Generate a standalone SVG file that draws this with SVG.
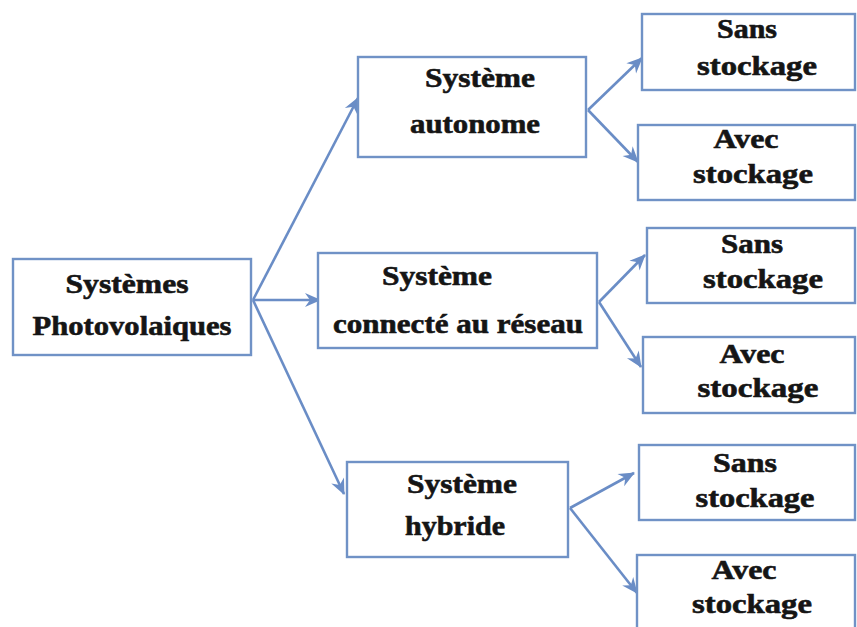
<svg xmlns="http://www.w3.org/2000/svg" width="857" height="627" viewBox="0 0 857 627">
<style>
.box{fill:#ffffff;stroke:#7092c6;stroke-width:2.4}
.t{font-family:"Liberation Serif","Times New Roman",Times,serif;font-weight:bold;font-size:28px;fill:#151515;stroke:#151515;stroke-width:0.6;text-anchor:middle}
.c{fill:none;stroke:#6a8dc6;stroke-width:2.6;marker-end:url(#ah)}
</style>
<defs>
<marker id="ah" markerUnits="userSpaceOnUse" viewBox="-16 -8 18 16" refX="0" refY="0" markerWidth="18" markerHeight="16" orient="auto">
<path d="M1,0 L-15,-7 L-10,0 L-15,7 Z" fill="#6a8dc6"/>
</marker>
</defs>
<rect width="857" height="627" fill="#ffffff"/>
<g id="connectors">
<line class="c" x1="253" y1="300" x2="358" y2="98"/>
<line class="c" x1="253" y1="300" x2="320" y2="300"/>
<line class="c" x1="253" y1="300" x2="344" y2="494"/>
<line class="c" x1="588" y1="110" x2="642" y2="58"/>
<line class="c" x1="588" y1="110" x2="638" y2="162"/>
<line class="c" x1="599" y1="302" x2="645" y2="255"/>
<line class="c" x1="599" y1="302" x2="641" y2="367"/>
<line class="c" x1="570" y1="508" x2="634" y2="473"/>
<line class="c" x1="570" y1="508" x2="637" y2="593"/>
</g>
<g id="n-main">
<rect class="box" x="13" y="259" width="238" height="96"/>
<text class="t" x="127" y="293" textLength="123" lengthAdjust="spacingAndGlyphs">Systèmes</text>
<text class="t" x="132" y="335" textLength="199" lengthAdjust="spacingAndGlyphs">Photovolaiques</text>
</g>
<g id="n-autonome">
<rect class="box" x="358" y="57" width="228" height="100"/>
<text class="t" x="480" y="87" textLength="110" lengthAdjust="spacingAndGlyphs">Système</text>
<text class="t" x="475" y="133" textLength="130" lengthAdjust="spacingAndGlyphs">autonome</text>
</g>
<g id="n-connecte">
<rect class="box" x="318" y="253" width="279" height="95"/>
<text class="t" x="437" y="285" textLength="110" lengthAdjust="spacingAndGlyphs">Système</text>
<text class="t" x="458" y="333" textLength="250" lengthAdjust="spacingAndGlyphs">connecté au réseau</text>
</g>
<g id="n-hybride">
<rect class="box" x="347" y="462" width="221" height="95"/>
<text class="t" x="462" y="493" textLength="110" lengthAdjust="spacingAndGlyphs">Système</text>
<text class="t" x="455" y="535" textLength="100" lengthAdjust="spacingAndGlyphs">hybride</text>
</g>
<g id="n-auto-sans">
<rect class="box" x="642" y="14" width="213" height="76"/>
<text class="t" x="747" y="38" textLength="60" lengthAdjust="spacingAndGlyphs">Sans</text>
<text class="t" x="757" y="75" textLength="120" lengthAdjust="spacingAndGlyphs">stockage</text>
</g>
<g id="n-auto-avec">
<rect class="box" x="638" y="125" width="217" height="75"/>
<text class="t" x="746" y="148" textLength="65" lengthAdjust="spacingAndGlyphs">Avec</text>
<text class="t" x="753" y="183" textLength="120" lengthAdjust="spacingAndGlyphs">stockage</text>
</g>
<g id="n-conn-sans">
<rect class="box" x="647" y="228" width="208" height="75"/>
<text class="t" x="752" y="253" textLength="62" lengthAdjust="spacingAndGlyphs">Sans</text>
<text class="t" x="763" y="288" textLength="120" lengthAdjust="spacingAndGlyphs">stockage</text>
</g>
<g id="n-conn-avec">
<rect class="box" x="643" y="337" width="212" height="76"/>
<text class="t" x="752" y="363" textLength="65" lengthAdjust="spacingAndGlyphs">Avec</text>
<text class="t" x="758" y="397" textLength="121" lengthAdjust="spacingAndGlyphs">stockage</text>
</g>
<g id="n-hyb-sans">
<rect class="box" x="639" y="445" width="216" height="75"/>
<text class="t" x="745" y="472" textLength="64" lengthAdjust="spacingAndGlyphs">Sans</text>
<text class="t" x="755" y="507" textLength="119" lengthAdjust="spacingAndGlyphs">stockage</text>
</g>
<g id="n-hyb-avec">
<rect class="box" x="637" y="555" width="218" height="90"/>
<text class="t" x="744" y="579" textLength="65" lengthAdjust="spacingAndGlyphs">Avec</text>
<text class="t" x="752" y="613" textLength="120" lengthAdjust="spacingAndGlyphs">stockage</text>
</g>
</svg>
